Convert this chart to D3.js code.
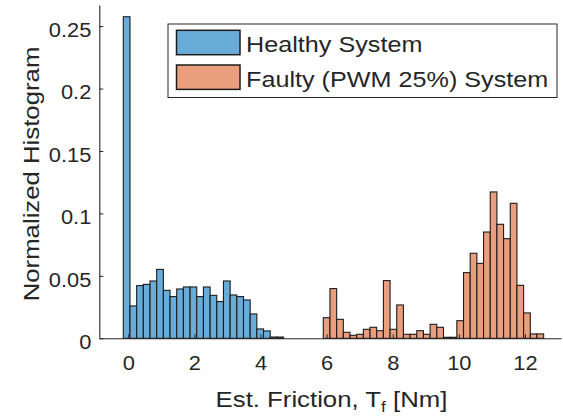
<!DOCTYPE html>
<html>
<head>
<meta charset="utf-8">
<script src="https://cdn.jsdelivr.net/npm/d3@7"></script>
<style>
  html, body { margin: 0; padding: 0; background: #fff; }
  svg { display: block; font-family: "Liberation Sans", Arial, sans-serif; }
</style>
</head>
<body>
<svg id="chart" width="563" height="417"></svg>
<script>
// ---- data ----
const seriesNames = ["Healthy System", "Faulty (PWM 25%) System"];
const healthyFirstCenter = -0.05;
const faultyFirstCenter = 6.0;
const binWidth = 0.202;
const healthyValues = [0.2575, 0.0259, 0.0422, 0.0432, 0.0459, 0.0552, 0.0384, 0.0334, 0.0395, 0.0411,
  0.0411, 0.0334, 0.0411, 0.0344, 0.0294, 0.0459, 0.0347, 0.0334, 0.0307, 0.0195,
  0.0075, 0.0059, 0.001, 0.001];
const faultyValues = [0.0165, 0.0398, 0.0152, 0.0048, 0.0024, 0.0032, 0.0072, 0.0088, 0.0061, 0.0462,
  0.0072, 0.0267, 0.0032, 0.0032, 0.0061, 0.0032, 0.0112, 0.0088, 0.0008, 0.0008,
  0.0141, 0.0526, 0.0681, 0.0600, 0.0851, 0.1172, 0.0913, 0.0798, 0.1081, 0.0424,
  0.0203, 0.0035, 0.0035];
const xTicks = [0, 2, 4, 6, 8, 10, 12];
const yTicks = [0, 0.05, 0.1, 0.15, 0.2, 0.25];
const yTickLabels = ["0", "0.05", "0.1", "0.15", "0.2", "0.25"];
const xLabel = "Est. Friction, T";
const xLabelSub = "f";
const xLabelUnit = " [Nm]";
const yLabel = "Normalized Histogram";

// ---- layout ----
const SX = 1.12;
const axisColor = "#262626";
const colors = ["rgb(104,172,217)", "rgb(235,158,125)"];
const svg = d3.select("#chart");
const plot = { left: 99.3, right: 561, top: 5, bottom: 338.3 };

const x = d3.scaleLinear().domain([-0.877, 13.09]).range([plot.left, plot.right]);
const y = d3.scaleLinear().domain([0, 0.2669]).range([plot.bottom, plot.top]);

const series = [
  { values: healthyValues, start: healthyFirstCenter, color: colors[0] },
  { values: faultyValues, start: faultyFirstCenter, color: colors[1] }
];

series.forEach(s => {
  const data = s.values.map((v, i) => ({ c: s.start + i * binWidth, v }));
  svg.append("g").selectAll("rect").data(data).join("rect")
    .attr("x", d => x(d.c - binWidth / 2))
    .attr("width", d => x(d.c + binWidth / 2) - x(d.c - binWidth / 2))
    .attr("y", d => y(d.v))
    .attr("height", d => y(0) - y(d.v))
    .attr("fill", s.color)
    .attr("stroke", "#1c1c1c")
    .attr("stroke-width", 1.1);
});

// axes
const xAxis = d3.axisBottom(x).tickValues(xTicks).tickFormat(d3.format("d"))
  .tickSizeInner(-4).tickSizeOuter(0).tickPadding(18);
const gx = svg.append("g").attr("transform", `translate(0,${plot.bottom})`).call(xAxis);
const yAxis = d3.axisLeft(y).tickValues(yTicks).tickFormat((d, i) => yTickLabels[i])
  .tickSizeInner(-4).tickSizeOuter(0).tickPadding(8);
const gy = svg.append("g").attr("transform", `translate(${plot.left},0)`).call(yAxis);

[gx, gy].forEach(g => {
  g.select(".domain").attr("stroke", axisColor).attr("stroke-width", 1.1);
  g.selectAll(".tick line").attr("stroke", axisColor).attr("stroke-width", 1);
  g.selectAll(".tick text").attr("fill", axisColor)
    .style("font-size", "19.5px").style("font-family", "'Liberation Sans', Arial, sans-serif");
});
gy.selectAll(".tick text").attr("x", -8 / SX).attr("dy", "10.3px").attr("transform", `scale(${SX},1)`);
gx.selectAll(".tick text").attr("transform", `scale(${SX},1)`);

// x label
const xl = svg.append("text")
  .attr("transform", `translate(331.5,406.5) scale(${SX},1)`)
  .attr("text-anchor", "middle")
  .attr("fill", axisColor)
  .style("font-size", "23px");
xl.append("tspan").text(xLabel);
xl.append("tspan").attr("dy", 5.5).style("font-size", "15.5px").text(xLabelSub);
xl.append("tspan").attr("dy", -5.5).text(xLabelUnit);

// y label
svg.append("text")
  .attr("transform", `translate(38.5,174) rotate(-90) scale(${SX},1)`)
  .attr("text-anchor", "middle")
  .attr("fill", axisColor)
  .style("font-size", "23px")
  .text(yLabel);

// legend
const leg = svg.append("g");
leg.append("rect").attr("x", 168).attr("y", 24).attr("width", 389).attr("height", 73.5)
  .attr("fill", "#fff").attr("stroke", axisColor).attr("stroke-width", 1);
const rows = [42.5, 77.2];
seriesNames.forEach((name, i) => {
  leg.append("rect").attr("x", 176.5).attr("y", rows[i] - 12.2).attr("width", 63.5).attr("height", 24.4)
    .attr("fill", colors[i]).attr("stroke", "#1c1c1c").attr("stroke-width", 1.5);
  leg.append("text")
    .attr("transform", `translate(246,${rows[i] + 9.8}) scale(${SX},1)`)
    .attr("fill", axisColor)
    .style("font-size", "22.5px")
    .text(name);
});
</script>
</body>
</html>
